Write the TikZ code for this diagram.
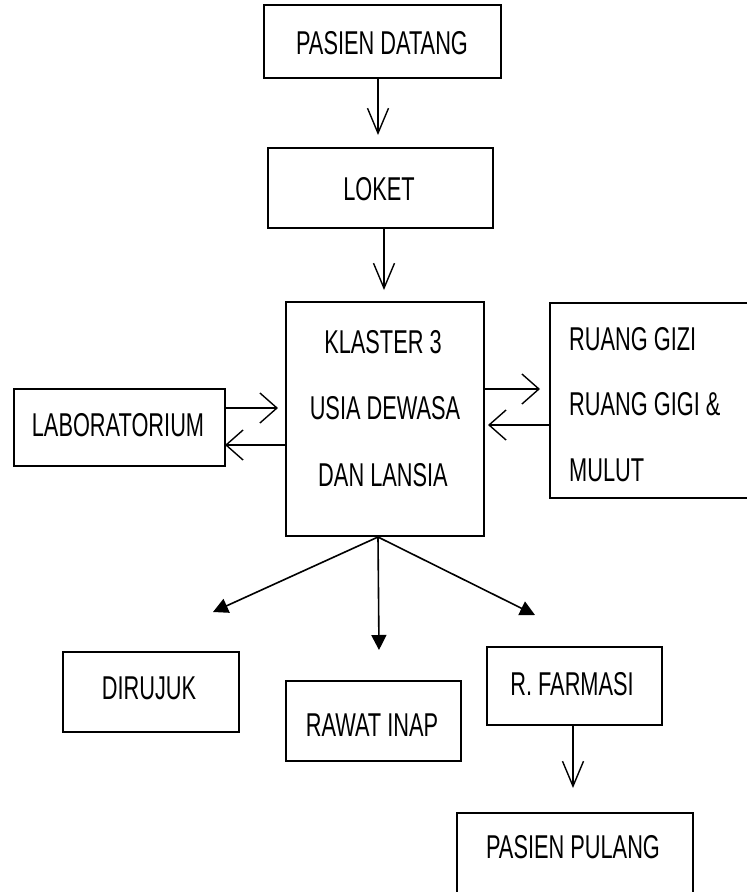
\documentclass[tikz,border=0pt]{standalone}
\usepackage{fontspec}
\setmainfont{Liberation Sans}[FakeStretch=0.66]
\usetikzlibrary{arrows.meta}
\begin{document}
\begin{tikzpicture}[x=1pt,y=-1pt,
  box/.style={draw=black,line width=2pt,inner sep=0pt,fill=white},
  txt/.style={inner sep=0pt,font=\fontsize{33}{38}\selectfont},
  openh/.style={line width=1.4pt,-{Straight Barb[length=17pt,width=30pt,line width=1.4pt]}},
  openv/.style={line width=1.4pt,-{Straight Barb[length=25pt,width=21pt,line width=1.4pt]}},
  solid/.style={line width=1.6pt,-{Triangle[length=15pt,width=15pt]}}]
\clip (0,0) rectangle (747,892);
\useasboundingbox (0,0) rectangle (747,892);
\fill[white] (0,0) rectangle (747,892);
% boxes
\node[box,minimum width=237,minimum height=73] (datang) at (382.5,41.5) {};
\node[txt] at (382,43) {PASIEN DATANG};
\node[box,minimum width=225,minimum height=80] (loket) at (380.5,188) {};
\node[txt] at (379,189) {LOKET};
\node[box,minimum width=198,minimum height=234] (klaster) at (385,419) {};
\node[txt] at (383,342) {KLASTER 3};
\node[txt] at (385,408) {USIA DEWASA};
\node[txt] at (383,475) {DAN LANSIA};
\node[box,minimum width=250,minimum height=195] (ruang) at (675,400.5) {};
\node[txt,anchor=west] at (569,339) {RUANG GIZI};
\node[txt,anchor=west] at (569,404) {RUANG GIGI \&};
\node[txt,anchor=west] at (569,470) {MULUT};
\node[box,minimum width=211,minimum height=77] (lab) at (119.5,427.5) {};
\node[txt] at (118,425) {LABORATORIUM};
\node[box,minimum width=176,minimum height=80] (rujuk) at (151,692) {};
\node[txt] at (149,688) {DIRUJUK};
\node[box,minimum width=175,minimum height=80] (inap) at (373.5,721) {};
\node[txt] at (372,725) {RAWAT INAP};
\node[box,minimum width=175,minimum height=78] (farmasi) at (574.5,686) {};
\node[txt] at (572,684) {R. FARMASI};
\node[box,minimum width=236,minimum height=120] (pulang) at (575,873) {};
\node[txt] at (573,847) {PASIEN PULANG};
% free ends
\coordinate (a1) at (378,135);
\coordinate (a2) at (384,290);
\coordinate (kr) at (540,389);
\coordinate (kl) at (488,425);
\coordinate (lr) at (278,408);
\coordinate (ll) at (225,445);
\coordinate (fan) at (378,537);
\coordinate (fl) at (213,612);
\coordinate (fm) at (379,650);
\coordinate (fr) at (535,615);
\coordinate (p1) at (573,788);
% connectors
\draw[openv] (datang.south -| a1) -- (a1);
\draw[openv] (loket.south -| a2) -- (a2);
\draw[openh] (klaster.east |- kr) -- (kr);
\draw[openh] (ruang.west |- kl) -- (kl);
\draw[openh] (lab.east |- lr) -- (lr);
\draw[openh] (klaster.west |- ll) -- (ll);
\draw[solid] (fan) -- (fl);
\draw[solid] (fan) -- (fm);
\draw[solid] (fan) -- (fr);
\draw[openv] (farmasi.south -| p1) -- (p1);
\end{tikzpicture}
\end{document}
